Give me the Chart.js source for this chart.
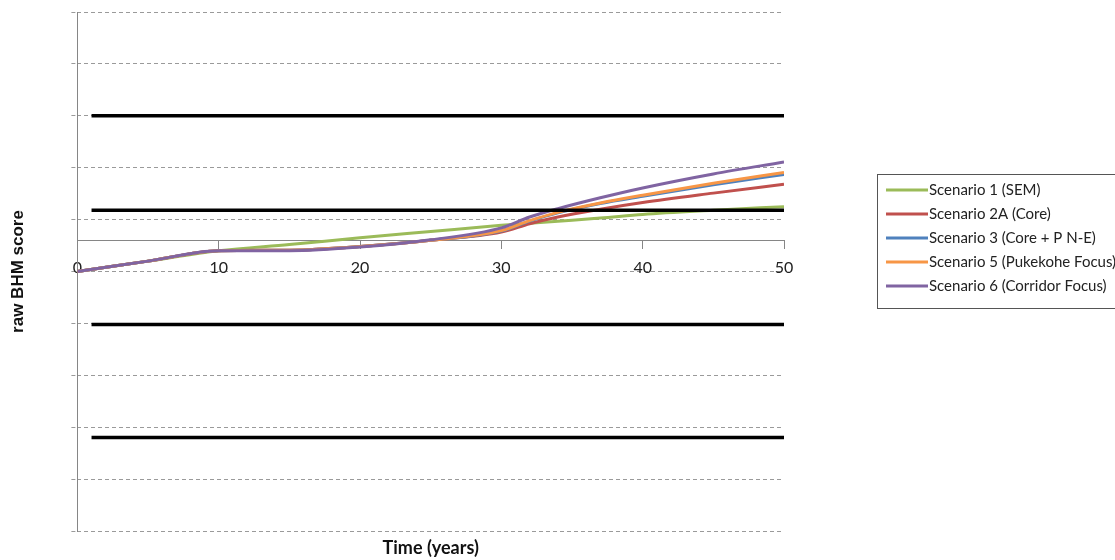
<!DOCTYPE html>
<html>
<head>
<meta charset="utf-8">
<script src="https://cdn.jsdelivr.net/npm/chart.js@4"></script>
<style>
  html, body { margin: 0; padding: 0; background: #fff; }
  #wrap { width: 1115px; height: 560px; }
</style>
</head>
<body>
<div id="wrap"><canvas id="c" width="1115" height="560"></canvas></div>
<script>
// ---- data ----
const years = [0, 5, 10, 15, 20, 25, 30, 32, 34, 37, 40, 45, 50];
const scenario1  = [0, 0.20, 0.40, 0.52, 0.65, 0.77, 0.89, 0.93, 0.97, 1.03, 1.10, 1.18, 1.25];
const scenario2A = [0, 0.20, 0.40, 0.41, 0.48, 0.60, 0.76, 0.92, 1.05, 1.20, 1.33, 1.51, 1.68];
const scenario3  = [0, 0.20, 0.40, 0.41, 0.48, 0.60, 0.78, 0.97, 1.13, 1.31, 1.45, 1.67, 1.87];
const scenario5  = [0, 0.20, 0.40, 0.41, 0.48, 0.60, 0.79, 0.98, 1.14, 1.32, 1.47, 1.70, 1.91];
const scenario6  = [0, 0.20, 0.40, 0.40, 0.47, 0.61, 0.84, 1.05, 1.21, 1.42, 1.61, 1.88, 2.11];
const thresholdYears = [1, 50];
const thresholds = [3.0, 1.18, -1.02, -3.2];
const xTicks = [0, 10, 20, 30, 40, 50];
const seriesNames = ['Scenario 1 (SEM)', 'Scenario 2A (Core)', 'Scenario 3 (Core + P N-E)', 'Scenario 5 (Pukekohe Focus)', 'Scenario 6 (Corridor Focus)'];
const seriesValues = [scenario1, scenario2A, scenario3, scenario5, scenario6];
const seriesColors = ['#9BBB59', '#C0504D', '#4F81BD', '#F79646', '#8064A2'];

const toPts = (xs, ys) => xs.map((x, i) => ({x: x, y: ys[i]}));

const datasets = seriesNames.map((name, i) => ({
  label: name,
  data: toPts(years, seriesValues[i]),
  borderColor: seriesColors[i],
  backgroundColor: seriesColors[i],
  borderWidth: 3,
  pointRadius: 0,
  cubicInterpolationMode: 'monotone',
  fill: false,
  showInLegend: true,
  order: 10 - i
}));
thresholds.forEach((v, k) => {
  datasets.push({
    label: 'threshold ' + (k + 1),
    data: toPts(thresholdYears, thresholdYears.map(() => v)),
    borderColor: '#000',
    borderWidth: 3.5,
    pointRadius: 0,
    fill: false,
    showInLegend: false,
    order: 0
  });
});

const boxLegend = {
  id: 'boxLegend',
  afterDraw(chart, args, o) {
    const ctx = chart.ctx;
    ctx.save();
    ctx.strokeStyle = '#555';
    ctx.lineWidth = 1;
    ctx.strokeRect(o.left + 0.5, o.top + 0.5, o.width, o.height);
    ctx.font = o.font;
    ctx.textBaseline = 'middle';
    ctx.textAlign = 'left';
    let y = o.top + o.firstRow;
    chart.data.datasets.forEach(ds => {
      if (!ds.showInLegend) return;
      ctx.strokeStyle = ds.borderColor;
      ctx.lineWidth = 3;
      ctx.beginPath();
      ctx.moveTo(o.left + o.lineStart, y);
      ctx.lineTo(o.left + o.lineStart + o.lineLen, y);
      ctx.stroke();
      ctx.fillStyle = '#222';
      ctx.fillText(ds.label, o.left + o.lineStart + o.lineLen + 1, y);
      y += o.rowH;
    });
    ctx.restore();
  }
};

new Chart(document.getElementById('c'), {
  type: 'line',
  data: { datasets: datasets },
  plugins: [boxLegend],
  options: {
    responsive: false,
    animation: false,
    layout: { padding: { left: 0, top: 12, right: 331, bottom: 0 } },
    plugins: {
      legend: { display: false },
      tooltip: { enabled: false },
      boxLegend: { left: 877, top: 174, width: 260, height: 134, firstRow: 16, rowH: 24, lineStart: 9, lineLen: 42, font: '15px Lato' }
    },
    scales: {
      x: {
        type: 'linear',
        position: { y: 0.6 },
        min: 0, max: 50,
        afterBuildTicks: s => { s.ticks = xTicks.map(v => ({value: v})); },
        ticks: { color: '#222', font: { family: 'Lato', size: 16 }, padding: 10, maxRotation: 0 },
        grid: { drawOnChartArea: false, drawTicks: true, tickLength: 8, color: '#868686', lineWidth: 1 },
        border: { display: true, color: '#868686', width: 1 }
      },
      xt: {
        type: 'linear',
        position: 'bottom',
        min: 0, max: 50,
        ticks: { display: false },
        grid: { display: false },
        border: { display: false },
        title: { display: true, text: 'Time (years)', color: '#111', font: { family: 'Lato', size: 18, weight: 'bold', lineHeight: 1.0 }, padding: { top: 0, bottom: 3 } }
      },
      y: {
        type: 'linear',
        position: 'left',
        min: -5, max: 5,
        ticks: { display: false, stepSize: 1 },
        grid: { color: '#9a9a9a', lineWidth: 1, tickLength: 6, tickBorderDash: [4, 3], drawTicks: true },
        border: { display: false, dash: [4, 3] },
        title: { display: true, text: 'raw BHM score', color: '#111', font: { family: 'Liberation Sans', size: 17, weight: 'bold' }, padding: { top: 8, bottom: 43 } }
      },
      yAxisLine: {
        type: 'linear',
        position: { x: 0 },
        min: -5, max: 5,
        ticks: { display: false },
        grid: { display: false },
        border: { display: true, color: '#868686', width: 1 }
      }
    }
  }
});
</script>
</body>
</html>
